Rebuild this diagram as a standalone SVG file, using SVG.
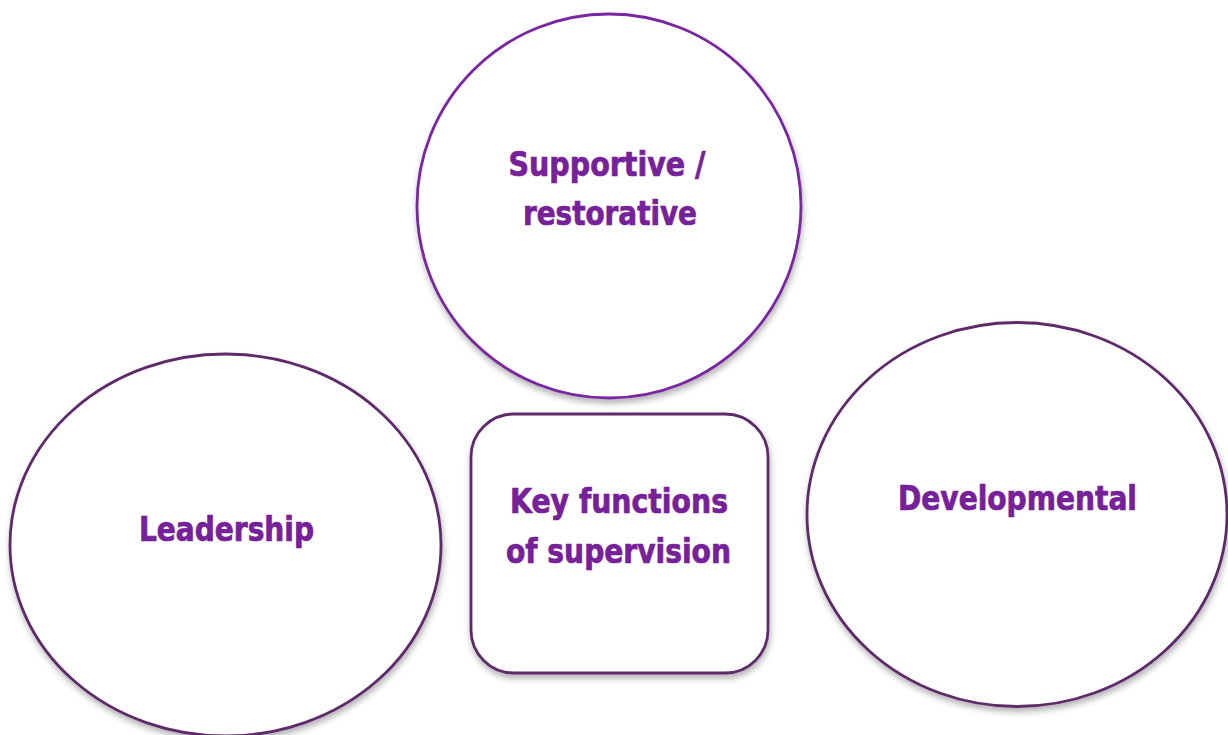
<svg xmlns="http://www.w3.org/2000/svg" width="1228" height="735" viewBox="0 0 1228 735">
<defs>
<style>
.shape{fill:#ffffff;stroke:#5f2a6b;stroke-width:2.8;filter:url(#sh);}
.top{stroke:#7a25a0;}
.lbl{font-family:"DejaVu Sans Condensed","DejaVu Sans",Tahoma,sans-serif;font-stretch:condensed;font-weight:bold;font-size:33px;fill:#76209a;stroke:#76209a;stroke-width:0.7;text-anchor:middle;}
</style>
<filter id="sh" x="-10%" y="-10%" width="125%" height="125%">
<feDropShadow dx="1" dy="4" stdDeviation="3" flood-color="#000000" flood-opacity="0.3"/>
</filter>
</defs>
<rect width="1228" height="735" fill="#ffffff"/>
<g id="connectors"></g>
<g id="node-supportive">
<circle class="shape top" cx="609" cy="206" r="192"/>
<text class="lbl" x="607" y="176" textLength="197" lengthAdjust="spacingAndGlyphs">Supportive /</text>
<text class="lbl" x="610" y="225" textLength="174" lengthAdjust="spacingAndGlyphs">restorative</text>
</g>
<g id="node-leadership">
<ellipse class="shape" cx="225.5" cy="545" rx="215.5" ry="191"/>
<text class="lbl" x="226.5" y="541" textLength="175" lengthAdjust="spacingAndGlyphs">Leadership</text>
</g>
<g id="node-developmental">
<ellipse class="shape" cx="1017" cy="514.5" rx="210" ry="192"/>
<text class="lbl" x="1017.5" y="510" textLength="239" lengthAdjust="spacingAndGlyphs">Developmental</text>
</g>
<g id="node-key">
<rect class="shape" x="471" y="414" width="297" height="259" rx="43" ry="43"/>
<text class="lbl" x="619" y="513" textLength="218" lengthAdjust="spacingAndGlyphs">Key functions</text>
<text class="lbl" x="618.5" y="563" textLength="225" lengthAdjust="spacingAndGlyphs">of supervision</text>
</g>
</svg>
